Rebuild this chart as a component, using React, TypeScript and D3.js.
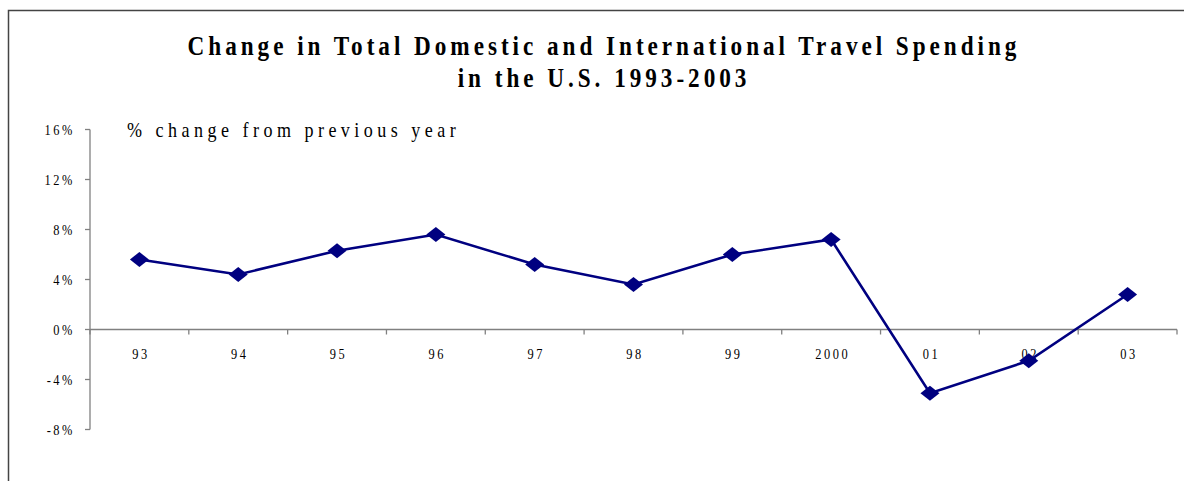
import React from 'react';
import * as d3 from 'd3';

const years = ['93', '94', '95', '96', '97', '98', '99', '2000', '01', '02', '03'];
const change = [5.6, 4.4, 6.3, 7.6, 5.2, 3.6, 6.0, 7.2, -5.1, -2.5, 2.8];
const yTicks = [-8, -4, 0, 4, 8, 12, 16];
const titleLines = ['Change in Total Domestic and International Travel Spending', 'in the U.S. 1993-2003'];
const subtitle = '% change from previous year';

const W = 1184;
const H = 481;
const FONT = '"Liberation Serif", "Times New Roman", serif';
const NAVY = '#000080';
const AXIS = '#808080';

// glyphs in the original look squeezed sideways, so text gets a horizontal scale
function Squeezed({ x, y, sx = 0.8, anchor = 'start', size, weight = 'normal', spacing = 0, children }) {
    return (
        <g transform={`translate(${x} ${y}) scale(${sx} 1)`}>
            <text textAnchor={anchor} fontSize={size} fontWeight={weight}
                letterSpacing={spacing} fontFamily={FONT} fill="#000">
                {children}
            </text>
        </g>
    );
}

export default function App() {
    const x = d3.scaleBand().domain(years).range([90, 1177]);
    const y = d3.scaleLinear().domain([-8, 16]).range([429.5, 129.5]);

    const line = d3.line()
        .x((d, i) => x(years[i]) + x.bandwidth() / 2)
        .y(d => y(d));

    const diamond = 'M0,-7.5L9.5,0L0,7.5L-9.5,0Z';
    const bandEdges = years.map(yr => x(yr)).concat([x.range()[1]]);

    return (
        <svg width={W} height={H} style={{ position: 'absolute', left: 0, top: 0, background: '#fff' }}>
            <rect x={8.5} y={10.5} width={W + 20} height={H + 20} fill="none" stroke="#444" strokeWidth={1.5} />

            {titleLines.map((t, i) => (
                <Squeezed key={i} x={604} y={55 + i * 32} sx={0.86} anchor="middle" size={27} weight="bold" spacing={4.6}>{t}</Squeezed>
            ))}

            <Squeezed x={127} y={137} sx={0.86} size={21} spacing={5.2}>{subtitle}</Squeezed>

            {/* y axis */}
            <line x1={90} x2={90} y1={y(16)} y2={y(-8)} stroke={AXIS} strokeWidth={1.3} />
            {yTicks.map(t => (
                <g key={t}>
                    <line x1={85} x2={90} y1={y(t)} y2={y(t)} stroke={AXIS} strokeWidth={1.3} />
                    <Squeezed x={75} y={y(t) + 5} anchor="end" size={15.5} spacing={3.2}>{t + '%'}</Squeezed>
                </g>
            ))}

            {/* x axis at zero */}
            <line x1={x.range()[0]} x2={x.range()[1]} y1={y(0)} y2={y(0)} stroke={AXIS} strokeWidth={1.3} />
            {bandEdges.map((e, i) => (
                <line key={i} x1={e} x2={e} y1={y(0)} y2={y(0) + 5} stroke={AXIS} strokeWidth={1.3} />
            ))}
            {years.map(yr => (
                <Squeezed key={yr} x={x(yr) + x.bandwidth() / 2 + 1.5} y={y(0) + 29} anchor="middle" size={15.5} spacing={3.2}>{yr}</Squeezed>
            ))}

            <path d={line(change)} fill="none" stroke={NAVY} strokeWidth={2.6} />
            {change.map((v, i) => (
                <path key={i} d={diamond} fill={NAVY}
                    transform={`translate(${x(years[i]) + x.bandwidth() / 2} ${y(v)})`} />
            ))}
        </svg>
    );
}
